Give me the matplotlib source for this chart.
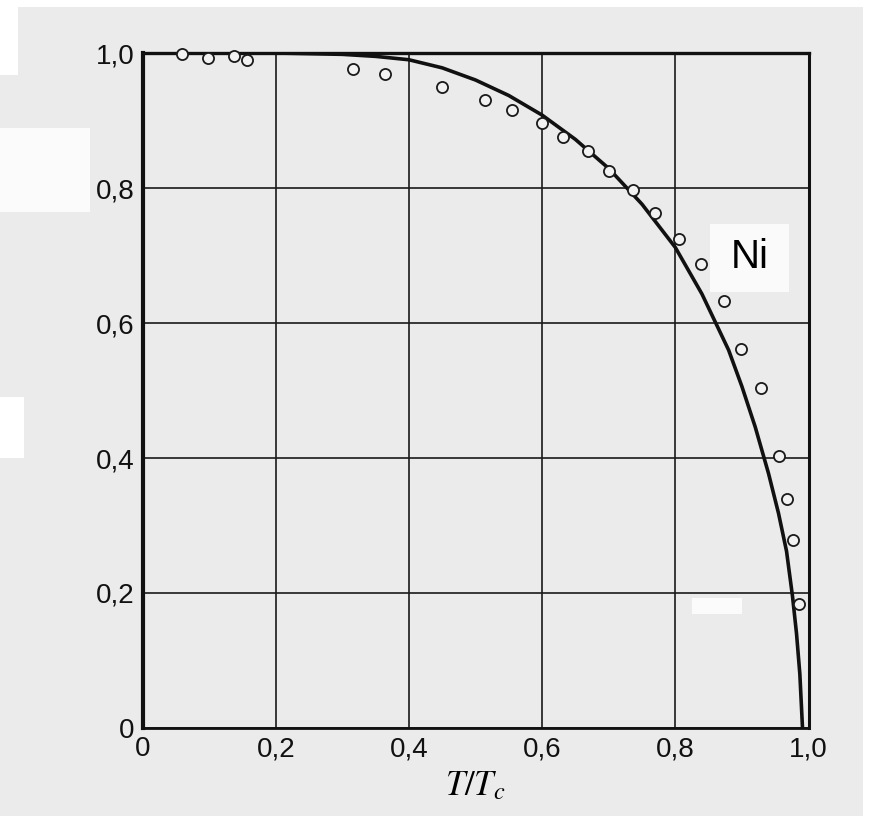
import numpy as np
import matplotlib.pyplot as plt
from matplotlib.patches import Rectangle

# reduced temperature and magnetisation of the measured points (Ni)
t_meas = [0.059, 0.098, 0.137, 0.157, 0.316, 0.364, 0.449, 0.515, 0.555, 0.600,
          0.631, 0.669, 0.700, 0.736, 0.769, 0.805, 0.838, 0.873, 0.899, 0.928,
          0.955, 0.967, 0.976, 0.985]
m_meas = [0.998, 0.993, 0.995, 0.990, 0.977, 0.969, 0.950, 0.931, 0.915, 0.896,
          0.876, 0.855, 0.825, 0.797, 0.763, 0.724, 0.687, 0.633, 0.561, 0.504,
          0.403, 0.339, 0.279, 0.184]

# mean-field curve
t_curve = [0.0, 0.1, 0.2, 0.3, 0.35, 0.4, 0.45, 0.5, 0.55, 0.6, 0.65, 0.7, 0.75,
           0.8, 0.84, 0.88, 0.9, 0.92, 0.94, 0.955, 0.967, 0.976, 0.982, 0.987, 0.991]
m_curve = [1.0, 1.0, 1.0, 0.998, 0.995, 0.99, 0.978, 0.96, 0.937, 0.908, 0.872,
           0.829, 0.776, 0.712, 0.643, 0.56, 0.506, 0.446, 0.377, 0.318, 0.262,
           0.195, 0.14, 0.08, 0.0]

tick_vals = [0, 0.2, 0.4, 0.6, 0.8, 1.0]
tick_labels = ['0', '0,2', '0,4', '0,6', '0,8', '1,0']

W, H = 869, 816
plt.rcParams['mathtext.fontset'] = 'stix'
fig = plt.figure(figsize=(W / 100, H / 100), dpi=100, facecolor='#ebebeb')


def fig_rect(x, y, w, h, color):
    fig.add_artist(Rectangle((x / W, 1 - (y + h) / H), w / W, h / H,
                             transform=fig.transFigure, facecolor=color,
                             edgecolor='none', zorder=-3))


# page background: scan patches
fig_rect(0, 0, W, 7, 'white')
fig_rect(0, 0, 18, 75, 'white')
fig_rect(0, 128, 90, 84, '#fbfbfb')
fig_rect(0, 397, 24, 61, 'white')
fig_rect(692, 598, 50, 16, '#fbfbfb')
fig_rect(863, 0, 6, H, 'white')

ax = fig.add_axes([142.5 / W, 1 - 728 / H, 666 / W, 675 / H])
ax.set_facecolor('none')

ax.plot(t_curve, m_curve, color='#111111', lw=2.6, zorder=3, solid_capstyle='butt')
ax.plot(t_meas, m_meas, 'o', ms=8, mfc='#f2f2f2', mec='#1a1a1a', mew=1.3, zorder=4,
        clip_on=False)

ax.set_xlim(0, 1)
ax.set_ylim(0, 1)
ax.set_xticks(tick_vals)
ax.set_xticklabels(tick_labels)
ax.set_yticks(tick_vals)
ax.set_yticklabels(tick_labels)
ax.tick_params(length=0, labelsize=20, pad=6, labelcolor='#111111')
for lab in ax.get_xticklabels() + ax.get_yticklabels():
    lab.set_family('Liberation Sans')
ax.grid(True, color='#1a1a1a', lw=1.2)
ax.set_axisbelow(True)

for side, lw in [('left', 3.0), ('top', 2.4), ('right', 2.2), ('bottom', 2.0)]:
    ax.spines[side].set_linewidth(lw)
    ax.spines[side].set_color('#111111')

ax.set_xlabel(r'$T/T_c$', fontsize=25, labelpad=4)

# label box
ax.add_patch(Rectangle((0.852, 0.646), 0.119, 0.1, facecolor='#fafafa',
                       edgecolor='none', zorder=5))
ax.text(0.912, 0.698, 'Ni', fontsize=29, family='Liberation Sans',
        ha='center', va='center', zorder=6)

fig.savefig('out.png', dpi=100, facecolor=fig.get_facecolor())
